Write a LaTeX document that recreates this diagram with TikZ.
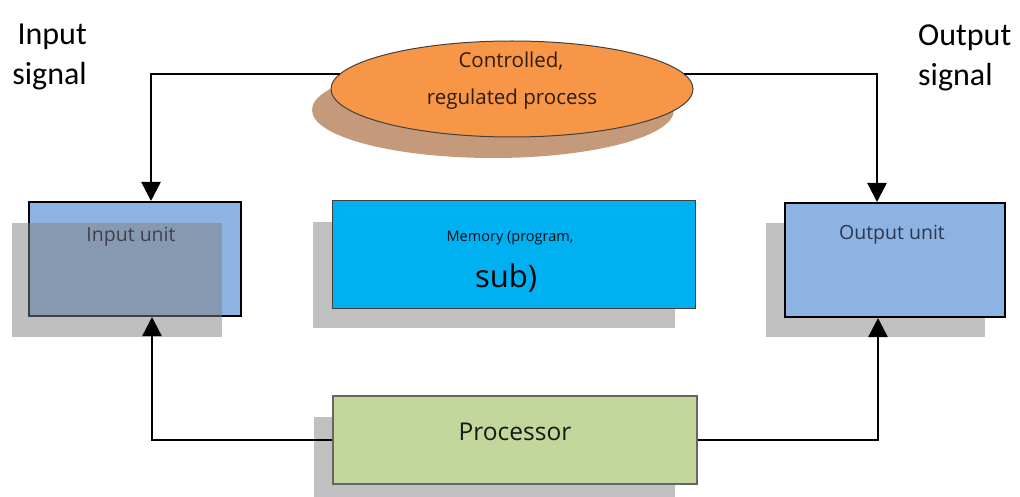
\documentclass[tikz,border=0pt]{standalone}
\usepackage{fontspec}
\setmainfont{Open Sans}
\newfontfamily\sigfont{Carlito}
\usetikzlibrary{shapes.geometric,arrows.meta}

\definecolor{unitblue}{HTML}{8DB3E2}
\definecolor{memblue}{HTML}{00B0F0}
\definecolor{procgreen}{HTML}{C3D69B}
\definecolor{procorange}{HTML}{F79646}
\definecolor{ovalshade}{HTML}{C49A7A}
\definecolor{boxshade}{HTML}{C0C0C0}
\definecolor{unittext}{HTML}{1E2A40}
\definecolor{ovaltext}{HTML}{2E1C0C}

\tikzset{
  unitbox/.style={draw=black, line width=2pt, fill=unitblue, inner sep=0pt},
  membox/.style={draw=black!75, line width=1pt, fill=memblue, inner sep=0pt},
  procbox/.style={draw=black!60, line width=1.2pt, fill=procgreen, inner sep=0pt},
  oval/.style={ellipse, draw=black!75, line width=1pt, fill=procorange, inner sep=0pt,
               minimum width=362pt, minimum height=96pt},
  shade/.style={fill=boxshade, draw=none},
  lbl/.style={inner sep=0pt, anchor=base},
  signal/.style={inner sep=0pt, align=left,
                 font=\sigfont\fontsize{32}{40}\selectfont},
  conn/.style={draw=black, line width=2.4pt,
               -{Triangle[width=19pt,length=19pt]}},
}

\begin{document}
\begin{tikzpicture}[x=1pt,y=-1pt]
\useasboundingbox[fill=white] (0,0) rectangle (1020,497);

% shadows lying behind their boxes
\fill[ovalshade] (493,110) ellipse [x radius=181, y radius=48];
\fill[shade] (313,222) rectangle (675,328);
\fill[shade] (766,223) rectangle (985,337);
\fill[shade] (314,417) rectangle (675,497);

% controlled process
\node[oval] (proc) at (512,89) {};
\node[lbl, font=\fontsize{20.5}{24}\selectfont, text=ovaltext] (procA) at (511,68) {Controlled,};
\node[lbl, font=\fontsize{20.5}{24}\selectfont, text=ovaltext] (procB) at (512,105) {regulated process};

% input unit, its shadow laid over it
\node[unitbox, minimum width=212pt, minimum height=114pt] (inp) at (135,259) {};
\node[lbl, font=\fontsize{19.5}{22}\selectfont, text=black!90!blue] (inpT) at (131,242) {Input unit};
\fill[black!50, opacity=0.5] (12,223) rectangle (222,337);

% memory
\node[membox, minimum width=363pt, minimum height=107pt] (mem) at (513.5,254.5) {};
\node[lbl, font=\fontsize{14.5}{16}\selectfont, text=black!90!memblue] (memA) at (510,242) {Memory (program,};
\node[lbl, font=\fontsize{31}{34}\selectfont, text=black] (memB) at (506,287) {sub)};

% output unit
\node[unitbox, minimum width=220pt, minimum height=114pt] (out) at (895,260) {};
\node[lbl, font=\fontsize{19.5}{22}\selectfont, text=unittext!90!unitblue] (outT) at (892,240) {Output unit};

% processor
\node[procbox, minimum width=364pt, minimum height=88pt] (cpu) at (515,440) {};
\node[lbl, font=\fontsize{24.5}{28}\selectfont, text=black!88!procgreen] (cpuT) at (515,440) {Processor};

% signal labels
\node[signal, align=right, anchor=north east] (insig) at (87,24) {Input\\signal};
\node[signal, anchor=north west] (outsig) at (918,25) {Output\\signal};

% connectors
\draw[conn] (proc.175) -| ([xshift=16pt]inp.north);
\draw[conn] (proc.5) -| ([xshift=-18pt]out.north);
\draw[conn] (cpu.west) -| ([xshift=17pt]inp.south);
\draw[conn] (cpu.east) -| ([xshift=-17pt]out.south);
\end{tikzpicture}
\end{document}
